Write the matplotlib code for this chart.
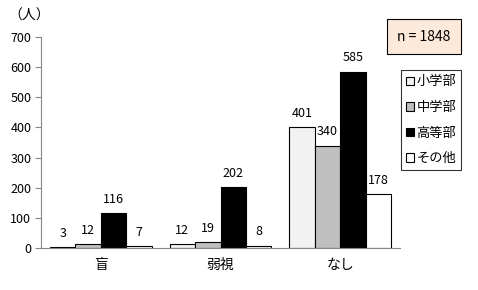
import matplotlib
matplotlib.use("Agg")
import matplotlib.pyplot as plt
import numpy as np

plt.rcParams["font.family"] = ["Noto Sans CJK JP", "DejaVu Sans"]

categories = ["盲", "弱視", "なし"]
series_names = ["小学部", "中学部", "高等部", "その他"]
series_values = [
    [3, 12, 401],
    [12, 19, 340],
    [116, 202, 585],
    [7, 8, 178],
]
colors = ["#f2f2f2", "#bfbfbf", "#000000", "#ffffff"]
y_ticks = [0, 100, 200, 300, 400, 500, 600, 700]
total_label = "n = 1848"
unit_label = "（人）"

fig = plt.figure(figsize=(4.78, 2.9), dpi=100)
ax = fig.add_axes([0.0858, 0.1448, 0.751, 0.7276])

x = np.arange(len(categories))
width = 0.2125
for i, (name, vals, color) in enumerate(zip(series_names, series_values, colors)):
    pos = x + (i - 1.5) * width
    ax.bar(pos, vals, width=width, color=color, edgecolor="black", linewidth=0.8, label=name)
    for px, v in zip(pos, vals):
        ax.annotate(str(v), (px, v), xytext=(0, 10), textcoords="offset points",
                    ha="center", va="center", fontsize=9)

ax.set_xlim(-0.5, 2.5)
ax.set_ylim(0, 700)
ax.set_yticks(y_ticks)
ax.set_xticks(x)
ax.set_xticklabels(categories, fontsize=10)
ax.tick_params(axis="x", length=0, pad=7)
ax.tick_params(axis="y", labelsize=9, length=4, color="#868686", width=0.8, pad=3)
for side in ("top", "right"):
    ax.spines[side].set_visible(False)
for side in ("left", "bottom"):
    ax.spines[side].set_color("#868686")
    ax.spines[side].set_linewidth(0.8)

fig.text(0.018, 0.945, unit_label, fontsize=10, ha="left", va="center")
fig.text(0.8865, 0.873, total_label, fontsize=10, ha="center", va="center",
         bbox=dict(boxstyle="square,pad=0.75", facecolor="#fde9d9", edgecolor="black", linewidth=0.8))

leg = ax.legend(loc="upper left", bbox_to_anchor=(0.838, 0.758), bbox_transform=fig.transFigure,
                fontsize=9.5, frameon=True, fancybox=False, edgecolor="black",
                handlelength=0.6, handleheight=0.6, handletextpad=0.2,
                borderpad=0.4, labelspacing=0.95, borderaxespad=0)
leg.get_frame().set_linewidth(0.8)

fig.savefig("out.png", dpi=100)
